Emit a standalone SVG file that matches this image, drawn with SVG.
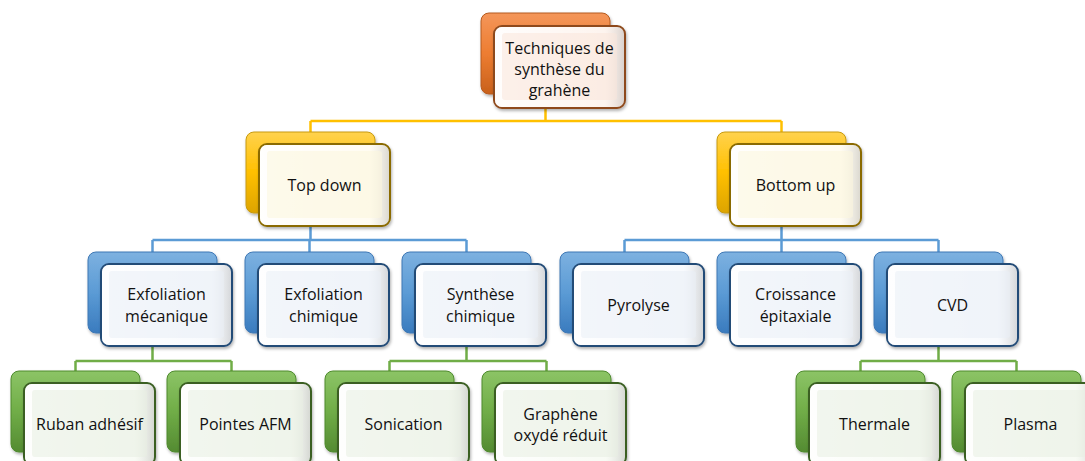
<svg xmlns="http://www.w3.org/2000/svg" width="1085" height="461" viewBox="0 0 1085 461">
<defs>
<linearGradient id="gO" x1="0" y1="0" x2="0" y2="1"><stop offset="0" stop-color="#F4965A"/><stop offset="0.5" stop-color="#ED7D31"/><stop offset="1" stop-color="#C8601C"/></linearGradient>
<linearGradient id="gY" x1="0" y1="0" x2="0" y2="1"><stop offset="0" stop-color="#FFD24D"/><stop offset="0.5" stop-color="#FFC000"/><stop offset="1" stop-color="#DDA400"/></linearGradient>
<linearGradient id="gB" x1="0" y1="0" x2="0" y2="1"><stop offset="0" stop-color="#7DB1E0"/><stop offset="0.5" stop-color="#5B9BD5"/><stop offset="1" stop-color="#3A7BBE"/></linearGradient>
<linearGradient id="gG" x1="0" y1="0" x2="0" y2="1"><stop offset="0" stop-color="#8CC466"/><stop offset="0.5" stop-color="#70AD47"/><stop offset="1" stop-color="#548B32"/></linearGradient>
<linearGradient id="bev" x1="0" y1="0" x2="1" y2="0"><stop offset="0" stop-color="#ffffff" stop-opacity="0.9"/><stop offset="0.85" stop-color="#ffffff" stop-opacity="0.2"/><stop offset="1" stop-color="#9a9a9a" stop-opacity="0.35"/></linearGradient>
<filter id="sh" x="-10%" y="-10%" width="130%" height="130%"><feDropShadow dx="1" dy="2" stdDeviation="1.5" flood-color="#000" flood-opacity="0.3"/></filter>
</defs>
<style>
.back{stroke-width:1}
.front{stroke-width:2}
.inner{stroke:none;opacity:0.55}
.o .back{fill:url(#gO);stroke:#B55A1E}
.o .front{fill:#FDF1EA;stroke:#8E4A1C}
.o .inner{fill:#F9E6DA}
.y .back{fill:url(#gY);stroke:#C79A10}
.y .front{fill:#FFFBEE;stroke:#8A6A00}
.y .inner{fill:#FBF5DC}
.b .back{fill:url(#gB);stroke:#3F78B5}
.b .front{fill:#F6F9FD;stroke:#244C77}
.b .inner{fill:#E9EEF6}
.g .back{fill:url(#gG);stroke:#4E8A2E}
.g .front{fill:#F6FAF2;stroke:#3A5F22}
.g .inner{fill:#E8EFE2}
.bv{fill:url(#bev);stroke:none}
text{font-family:"Open Sans","Noto Sans","Liberation Sans",sans-serif;font-size:16px;fill:#111;text-anchor:middle}
.cy{stroke:#FFC000;stroke-width:2.5;fill:none}
.cb{stroke:#5B9BD5;stroke-width:2.5;fill:none}
.cg{stroke:#70AD47;stroke-width:2.5;fill:none}
</style>
<g id="connectors">
<path class="cy" d="M545.5 97V121M310.5 121H781.5M310.5 121V133M781.5 121V133"/>
<path class="cb" d="M310.5 214V240M152.5 240H466.5M152.5 240V253M309.5 240V253M466.5 240V253"/>
<path class="cb" d="M781.5 214V240M624.5 240H938.5M624.5 240V253M781.5 240V253M938.5 240V253"/>
<path class="cg" d="M152.5 333V361M75.5 361H231.5M75.5 361V372M231.5 361V372"/>
<path class="cg" d="M466.5 333V361M389.5 361H546.5M389.5 361V372M546.5 361V372"/>
<path class="cg" d="M938.5 333V361M860.5 361H1016.5M860.5 361V372M1016.5 361V372"/>
</g>
<g id="n-root" class="o">
<rect class="back" x="481" y="13" width="129" height="81" rx="8" filter="url(#sh)"/>
<rect class="front" x="494" y="26" width="131" height="82" rx="8" filter="url(#sh)"/>
<rect class="bv" x="495" y="27" width="129" height="80" rx="7"/>
<rect class="inner" x="502" y="33" width="115" height="67" rx="3"/>
<text x="559.5" y="54">Techniques de</text><text x="559.5" y="75">synthèse du</text><text x="559.5" y="96">grahène</text>
</g>
<g id="n-topdown" class="y">
<rect class="back" x="246" y="132" width="129" height="81" rx="8" filter="url(#sh)"/>
<rect class="front" x="259" y="144" width="131" height="82" rx="8" filter="url(#sh)"/>
<rect class="bv" x="260" y="145" width="129" height="80" rx="7"/>
<rect class="inner" x="267" y="151" width="115" height="67" rx="3"/>
<text x="324.5" y="191">Top down</text>
</g>
<g id="n-bottomup" class="y">
<rect class="back" x="717" y="132" width="129" height="81" rx="8" filter="url(#sh)"/>
<rect class="front" x="730" y="144" width="131" height="82" rx="8" filter="url(#sh)"/>
<rect class="bv" x="731" y="145" width="129" height="80" rx="7"/>
<rect class="inner" x="738" y="151" width="115" height="67" rx="3"/>
<text x="795.5" y="191">Bottom up</text>
</g>
<g id="n-exfmeca" class="b">
<rect class="back" x="88" y="252" width="129" height="81" rx="8" filter="url(#sh)"/>
<rect class="front" x="101" y="264" width="131" height="82" rx="8" filter="url(#sh)"/>
<rect class="bv" x="102" y="265" width="129" height="80" rx="7"/>
<rect class="inner" x="109" y="271" width="115" height="67" rx="3"/>
<text x="166.5" y="300">Exfoliation</text><text x="166.5" y="322">mécanique</text>
</g>
<g id="n-exfchim" class="b">
<rect class="back" x="245" y="252" width="129" height="81" rx="8" filter="url(#sh)"/>
<rect class="front" x="258" y="264" width="131" height="82" rx="8" filter="url(#sh)"/>
<rect class="bv" x="259" y="265" width="129" height="80" rx="7"/>
<rect class="inner" x="266" y="271" width="115" height="67" rx="3"/>
<text x="323.5" y="300">Exfoliation</text><text x="323.5" y="322">chimique</text>
</g>
<g id="n-synthchim" class="b">
<rect class="back" x="402" y="252" width="129" height="81" rx="8" filter="url(#sh)"/>
<rect class="front" x="415" y="264" width="131" height="82" rx="8" filter="url(#sh)"/>
<rect class="bv" x="416" y="265" width="129" height="80" rx="7"/>
<rect class="inner" x="423" y="271" width="115" height="67" rx="3"/>
<text x="480.5" y="300">Synthèse</text><text x="480.5" y="322">chimique</text>
</g>
<g id="n-pyrolyse" class="b">
<rect class="back" x="560" y="252" width="129" height="81" rx="8" filter="url(#sh)"/>
<rect class="front" x="573" y="264" width="131" height="82" rx="8" filter="url(#sh)"/>
<rect class="bv" x="574" y="265" width="129" height="80" rx="7"/>
<rect class="inner" x="581" y="271" width="115" height="67" rx="3"/>
<text x="638.5" y="311">Pyrolyse</text>
</g>
<g id="n-croissance" class="b">
<rect class="back" x="717" y="252" width="129" height="81" rx="8" filter="url(#sh)"/>
<rect class="front" x="730" y="264" width="131" height="82" rx="8" filter="url(#sh)"/>
<rect class="bv" x="731" y="265" width="129" height="80" rx="7"/>
<rect class="inner" x="738" y="271" width="115" height="67" rx="3"/>
<text x="795.5" y="300">Croissance</text><text x="795.5" y="322">épitaxiale</text>
</g>
<g id="n-cvd" class="b">
<rect class="back" x="874" y="252" width="129" height="81" rx="8" filter="url(#sh)"/>
<rect class="front" x="887" y="264" width="131" height="82" rx="8" filter="url(#sh)"/>
<rect class="bv" x="888" y="265" width="129" height="80" rx="7"/>
<rect class="inner" x="895" y="271" width="115" height="67" rx="3"/>
<text x="952.5" y="311">CVD</text>
</g>
<g id="n-ruban" class="g">
<rect class="back" x="11" y="371" width="129" height="81" rx="8" filter="url(#sh)"/>
<rect class="front" x="24" y="383" width="131" height="82" rx="8" filter="url(#sh)"/>
<rect class="bv" x="25" y="384" width="129" height="80" rx="7"/>
<rect class="inner" x="32" y="390" width="115" height="67" rx="3"/>
<text x="89.5" y="430">Ruban adhésif</text>
</g>
<g id="n-pointes" class="g">
<rect class="back" x="167" y="371" width="129" height="81" rx="8" filter="url(#sh)"/>
<rect class="front" x="180" y="383" width="131" height="82" rx="8" filter="url(#sh)"/>
<rect class="bv" x="181" y="384" width="129" height="80" rx="7"/>
<rect class="inner" x="188" y="390" width="115" height="67" rx="3"/>
<text x="245.5" y="430">Pointes AFM</text>
</g>
<g id="n-sonication" class="g">
<rect class="back" x="325" y="371" width="129" height="81" rx="8" filter="url(#sh)"/>
<rect class="front" x="338" y="383" width="131" height="82" rx="8" filter="url(#sh)"/>
<rect class="bv" x="339" y="384" width="129" height="80" rx="7"/>
<rect class="inner" x="346" y="390" width="115" height="67" rx="3"/>
<text x="403.5" y="430">Sonication</text>
</g>
<g id="n-graphene" class="g">
<rect class="back" x="482" y="371" width="129" height="81" rx="8" filter="url(#sh)"/>
<rect class="front" x="495" y="383" width="131" height="82" rx="8" filter="url(#sh)"/>
<rect class="bv" x="496" y="384" width="129" height="80" rx="7"/>
<rect class="inner" x="503" y="390" width="115" height="67" rx="3"/>
<text x="560.5" y="420">Graphène</text><text x="560.5" y="441">oxydé réduit</text>
</g>
<g id="n-thermale" class="g">
<rect class="back" x="796" y="371" width="129" height="81" rx="8" filter="url(#sh)"/>
<rect class="front" x="809" y="383" width="131" height="82" rx="8" filter="url(#sh)"/>
<rect class="bv" x="810" y="384" width="129" height="80" rx="7"/>
<rect class="inner" x="817" y="390" width="115" height="67" rx="3"/>
<text x="874.5" y="430">Thermale</text>
</g>
<g id="n-plasma" class="g">
<rect class="back" x="952" y="371" width="129" height="81" rx="8" filter="url(#sh)"/>
<rect class="front" x="965" y="383" width="131" height="82" rx="8" filter="url(#sh)"/>
<rect class="bv" x="966" y="384" width="129" height="80" rx="7"/>
<rect class="inner" x="973" y="390" width="115" height="67" rx="3"/>
<text x="1030.5" y="430">Plasma</text>
</g>
</svg>
